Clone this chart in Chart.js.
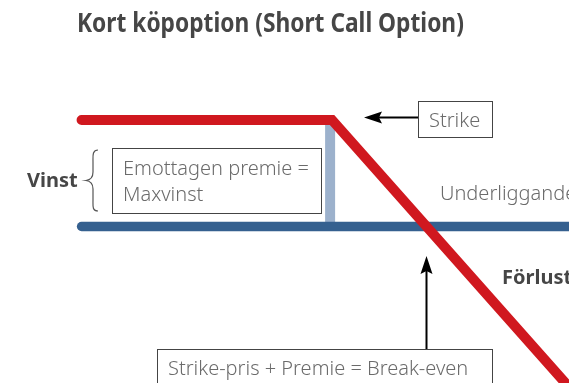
<!DOCTYPE html>
<html>
<head>
<meta charset="utf-8">
<script src="https://cdn.jsdelivr.net/npm/chart.js@4"></script>
<style>
  html, body { margin: 0; padding: 0; background: #fff; }
  #wrap { width: 569px; height: 383px; }
</style>
</head>
<body>
<div id="wrap"><canvas id="payoffChart" width="569" height="383"></canvas></div>
<script>
// Payoff of a short call (price units, profit units)
const strike = 100;
const premium = 10;
const payoffPrices = [73.5, 100, 125.5];
const payoffProfit = [10, 10, -15.5];
const axisPrices = [73.5, 126];
const axisProfit = [0, 0];
const premiumBarPrices = [99.8, 99.8];
const premiumBarProfit = [10, 0];

const toPoints = (xs, ys) => xs.map((x, i) => ({ x: x, y: ys[i] }));

// Text labels and arrows
const labelPlugin = {
    id: 'labels',
    afterDraw(chart) {
        const ctx = chart.ctx;
        const xs = chart.scales.x;
        ctx.save();
        ctx.textBaseline = 'alphabetic';
        ctx.textAlign = 'left';

        // Title (condensed look)
        ctx.fillStyle = '#464646';
        ctx.save();
        ctx.translate(77, 32);
        ctx.scale(0.875, 1);
        ctx.font = 'bold 26px "Noto Sans"';
        ctx.fillText('Kort köpoption (Short Call Option)', 0, 0);
        ctx.restore();

        // Bold side labels
        ctx.font = 'bold 20px "Noto Sans"';
        ctx.fillText('Vinst', 27, 187);
        ctx.fillText('Förlust', 502, 284);

        // Boxes
        ctx.strokeStyle = '#444';
        ctx.lineWidth = 1;
        ctx.fillStyle = '#fff';
        ctx.fillRect(112.5, 148.5, 209, 65);
        ctx.strokeRect(112.5, 148.5, 209, 65);
        ctx.fillRect(418.5, 101.5, 74, 36);
        ctx.strokeRect(418.5, 101.5, 74, 36);
        ctx.fillRect(157.5, 349.5, 335, 40);
        ctx.strokeRect(157.5, 349.5, 335, 40);

        // Light text
        ctx.fillStyle = '#6b6b6b';
        ctx.font = '300 20px "Noto Sans"';
        ctx.fillText('Emottagen premie =', 123, 175);
        ctx.fillText('Maxvinst', 123, 201);
        ctx.fillText('Strike', 429, 127);
        ctx.fillText('Underliggande', 440, 200);
        ctx.fillText('Strike-pris + Premie = Break-even', 168, 375);

        // Brace
        ctx.strokeStyle = '#555';
        ctx.lineWidth = 1.2;
        ctx.beginPath();
        ctx.moveTo(98, 150);
        ctx.bezierCurveTo(92, 150, 93, 156, 93, 162);
        ctx.lineTo(93, 172);
        ctx.bezierCurveTo(93, 178, 90, 180, 86, 180.5);
        ctx.bezierCurveTo(90, 181, 93, 183, 93, 189);
        ctx.lineTo(93, 200);
        ctx.bezierCurveTo(93, 206, 92, 211, 98, 211);
        ctx.stroke();

        // Arrow to strike
        ctx.strokeStyle = '#000';
        ctx.fillStyle = '#000';
        ctx.lineWidth = 2;
        const sy = 117.5;
        ctx.beginPath();
        ctx.moveTo(418, sy);
        ctx.lineTo(378, sy);
        ctx.stroke();
        ctx.beginPath();
        ctx.moveTo(364, sy);
        ctx.lineTo(382, sy - 6);
        ctx.lineTo(379, sy);
        ctx.lineTo(382, sy + 6);
        ctx.closePath();
        ctx.fill();

        // Arrow to break-even
        const bx = Math.round(xs.getPixelForValue(strike + premium)) + 0.5;
        ctx.beginPath();
        ctx.moveTo(bx, 349);
        ctx.lineTo(bx, 270);
        ctx.stroke();
        ctx.beginPath();
        ctx.moveTo(bx, 256);
        ctx.lineTo(bx - 6, 274);
        ctx.lineTo(bx, 271);
        ctx.lineTo(bx + 6, 274);
        ctx.closePath();
        ctx.fill();

        ctx.restore();
    }
};

const ctx = document.getElementById('payoffChart').getContext('2d');
new Chart(ctx, {
    type: 'line',
    data: {
        datasets: [
            {
                data: toPoints(payoffPrices, payoffProfit),
                borderColor: '#d0181f',
                borderWidth: 10,
                borderCapStyle: 'round',
                borderJoinStyle: 'miter',
                pointRadius: 0,
                tension: 0
            },
            {
                data: toPoints(axisPrices, axisProfit),
                borderColor: '#35608f',
                borderWidth: 9.5,
                borderCapStyle: 'round',
                pointRadius: 0
            },
            {
                data: toPoints(premiumBarPrices, premiumBarProfit),
                borderColor: '#9cb1cc',
                borderWidth: 10,
                borderCapStyle: 'butt',
                pointRadius: 0
            }
        ]
    },
    options: {
        responsive: false,
        animation: false,
        devicePixelRatio: 1,
        layout: { padding: 0 },
        plugins: {
            legend: { display: false },
            tooltip: { enabled: false },
            title: { display: false }
        },
        scales: {
            x: {
                type: 'linear',
                display: false,
                min: 100 - 332 / 9.45,
                max: 100 + 237 / 9.45
            },
            y: {
                type: 'linear',
                display: false,
                min: -156.5 / 10.65,
                max: 226.5 / 10.65
            }
        }
    },
    plugins: [labelPlugin]
});
</script>
</body>
</html>
